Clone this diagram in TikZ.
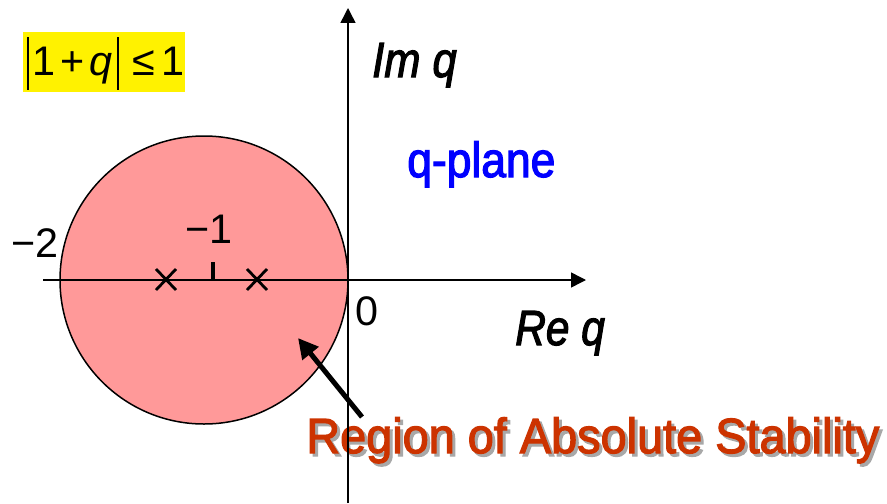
\documentclass[tikz,border=0pt]{standalone}
\usepackage{fontspec}
\setmainfont{Liberation Sans}
\newfontface\heavy{Liberation Sans}[FakeBold=2.5]
\newfontface\heavyit{Liberation Sans Italic}[FakeBold=2.5]
\usetikzlibrary{arrows.meta}
\definecolor{regfill}{HTML}{FF9999}
\definecolor{regred}{HTML}{CC3300}
\definecolor{shadowgray}{HTML}{A8A8A8}
\tikzset{
  axis/.style={line width=1.125pt, -{Triangle[length=11.25pt,width=11.25pt]}},
  big/.style={inner sep=0pt, font=\fontsize{37}{40}\selectfont\heavy},
  bigit/.style={inner sep=0pt, font=\fontsize{37}{40}\selectfont\heavyit},
  num/.style={inner sep=0pt, font=\fontsize{31}{34}\selectfont},
  crossmark/.style={line width=2.1pt},
}
\begin{document}
\begin{tikzpicture}[x=0.75pt,y=-0.75pt]
\useasboundingbox (0,0) rectangle (887,503);
% circle region
\fill[regfill] (204,280) circle (144);
\draw[line width=1.125pt] (204,280) circle (144);
% axes
\coordinate (xs) at (43,280);
\coordinate (xe) at (586,280);
\coordinate (ys) at (348,503);
\coordinate (ye) at (348,8);
\draw[axis] (xs) -- (xe);
\draw[axis] (ys) -- (ye);
% tick at -1
\coordinate (t1) at (213,262);
\coordinate (t2) at (213,280);
\draw[line width=2.4pt] (t1) -- (t2);
% crosses
\foreach \cx in {166,257}{
  \draw[crossmark] (\cx-10,269) -- (\cx+10,290);
  \draw[crossmark] (\cx-10,290) -- (\cx+10,269);
}
% labels
\node[num] (m2) at (35,243) {−2};
\node[num] (m1) at (209,229) {−1};
\node[num] (z0) at (367,311) {0};
\node[bigit, anchor=base west] (im) at (372,77) {\scalebox{0.88}[1]{Im q}};
\node[bigit, anchor=base west] (re) at (515,345) {\scalebox{0.86}[1]{Re q}};
\node[big, anchor=base west, text=blue] (qp) at (407,177) {\scalebox{0.9}[1]{q-plane}};
% formula box
\fill[yellow] (23,32) rectangle (185,92);
\coordinate (b1a) at (28,37); \coordinate (b1b) at (28,90);
\coordinate (b2a) at (118,37); \coordinate (b2b) at (118,90);
\draw[line width=1.5pt] (b1a) -- (b1b);
\draw[line width=1.5pt] (b2a) -- (b2b);
\node[num, anchor=base west] (f1) at (32,75) {1\kern0.12em+\kern0.12em\textit{q}};
\node[num, anchor=base west] (f2) at (132,75) {≤\kern0.15em1};
% region label with shadow
\node[big, anchor=base west, text=shadowgray] (regsh) at (309,456) {\scalebox{0.95}[1]{Region of Absolute Stability}};
\node[big, anchor=base west, text=regred] (reg) at (306,453) {\scalebox{0.95}[1]{Region of Absolute Stability}};
% pointer arrow
\coordinate (pt) at (298,338);
\coordinate (pf) at (362,417);
\draw[line width=3.75pt, -{Triangle[length=15pt,width=15pt]}] (pf) -- (pt);
% axis over text
\coordinate (ya) at (348,400);
\draw[line width=1.125pt] (ya) -- (ys);
\end{tikzpicture}
\end{document}
